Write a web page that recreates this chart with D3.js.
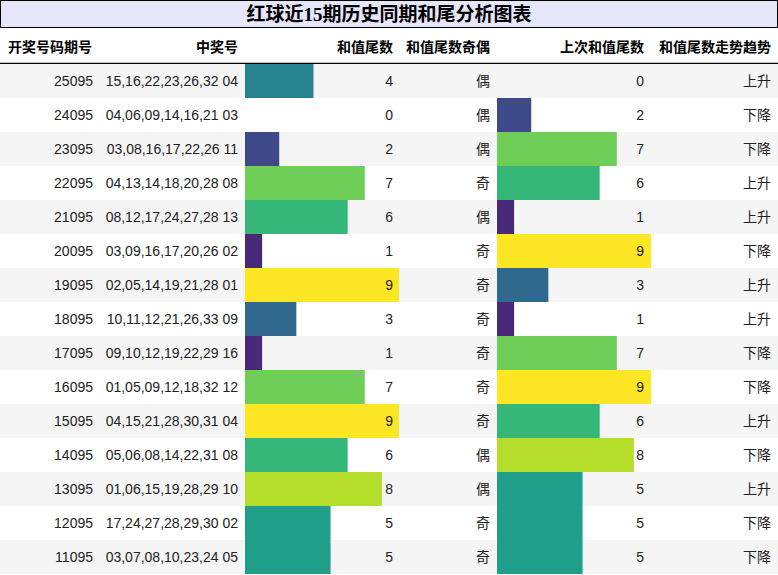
<!DOCTYPE html>
<html lang="zh">
<head>
<meta charset="UTF-8">
<style>
  body { margin: 0; background: #fff; }
  svg text { font-family: "Liberation Sans", "Noto Sans CJK SC", sans-serif; font-size: 14px; fill: #222; }
</style>
</head>
<body>
<script src="https://d3js.org/d3.v7.min.js"></script>
<script>
const title = "红球近15期历史同期和尾分析图表";
const headers = ["开奖号码期号", "中奖号", "和值尾数", "和值尾数奇偶", "上次和值尾数", "和值尾数走势趋势"];
const periods = ["25095","24095","23095","22095","21095","20095","19095","18095","17095","16095","15095","14095","13095","12095","11095"];
const numbers = ["15,16,22,23,26,32 04","04,06,09,14,16,21 03","03,08,16,17,22,26 11","04,13,14,18,20,28 08","08,12,17,24,27,28 13","03,09,16,17,20,26 02","02,05,14,19,21,28 01","10,11,12,21,26,33 09","09,10,12,19,22,29 16","01,05,09,12,18,32 12","04,15,21,28,30,31 04","05,06,08,14,22,31 08","01,06,15,19,28,29 10","17,24,27,28,29,30 02","03,07,08,10,23,24 05"];
const tails = [4,0,2,7,6,1,9,3,1,7,9,6,8,5,5];
const parity = ["偶","偶","偶","奇","偶","奇","奇","奇","奇","奇","奇","偶","偶","奇","奇"];
const prevTails = [0,2,7,6,1,9,3,1,7,9,6,8,5,5,5];
const trend = ["上升","下降","下降","上升","上升","下降","上升","上升","下降","下降","上升","下降","上升","下降","下降"];

const W = 778, H = 575, titleH = 28, headH = 36, rowH = 34;
const cols = [0, 100, 245, 400, 497, 651, 778];
const svg = d3.select("body").append("svg").attr("width", W).attr("height", H);

svg.append("rect").attr("x", 0.5).attr("y", 0.5).attr("width", W - 1).attr("height", titleH - 1)
  .attr("fill", "#e6e6fa").attr("stroke", "#000");
svg.append("text").attr("x", W / 2).attr("y", 21).attr("text-anchor", "middle")
  .style("font-family", "'Liberation Serif', 'Noto Sans CJK SC', serif").style("font-size", "19px")
  .style("font-weight", "bold").style("fill", "#000").text(title);

headers.forEach((h, i) => {
  svg.append("text").attr("x", i === 0 ? 8 : cols[i + 1] - 7).attr("y", titleH + 24)
    .attr("text-anchor", i === 0 ? "start" : "end").style("font-weight", "bold").style("fill", "#000").text(h);
});
svg.append("line").attr("x1", 0).attr("x2", W).attr("y1", titleH + headH - 0.5).attr("y2", titleH + headH - 0.5)
  .attr("stroke", "#000").attr("stroke-width", 1.5);

const y = d3.scaleBand().domain(d3.range(periods.length)).range([titleH + headH, titleH + headH + rowH * periods.length]);
const color = d3.scaleSequential(d3.interpolateViridis).domain([0, 9]);
const x1 = d3.scaleLinear().domain([0, 9]).range([0, 154]);

const rows = svg.selectAll("g.row").data(periods).join("g").attr("class", "row")
  .attr("transform", (d, i) => `translate(0,${y(i)})`);
rows.append("rect").attr("width", W).attr("height", y.bandwidth())
  .attr("fill", (d, i) => i % 2 === 0 ? "#f5f5f5" : "#fff");
rows.append("rect").attr("x", cols[2]).attr("width", (d, i) => x1(tails[i])).attr("height", y.bandwidth())
  .attr("fill", (d, i) => color(tails[i]));
rows.append("rect").attr("x", cols[4]).attr("width", (d, i) => x1(prevTails[i])).attr("height", y.bandwidth())
  .attr("fill", (d, i) => color(prevTails[i]));

const cells = [periods, numbers, tails, parity, prevTails, trend];
cells.forEach((arr, c) => {
  rows.append("text").attr("x", cols[c + 1] - 7).attr("y", 22).attr("text-anchor", "end")
    .text((d, i) => arr[i]);
});
</script>
</body>
</html>
